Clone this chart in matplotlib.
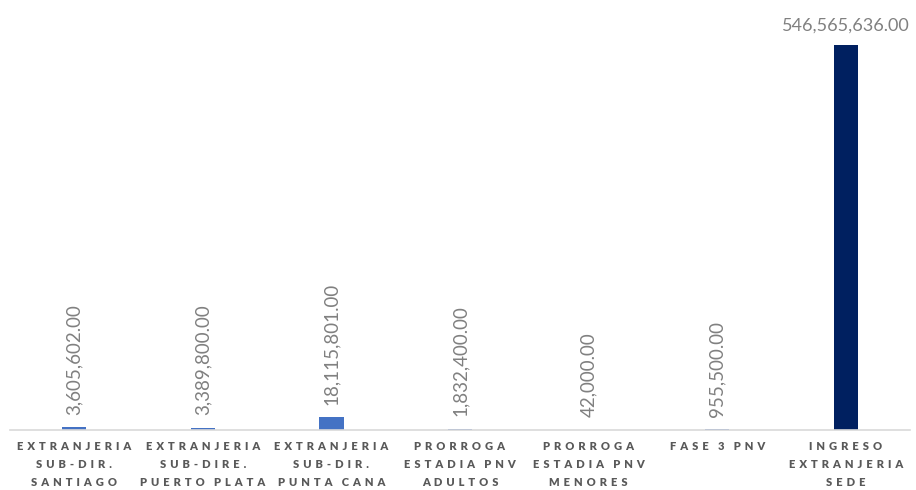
import matplotlib.pyplot as plt

categories = [
    "EXTRANJERIA\nSUB-DIR.\nSANTIAGO",
    "EXTRANJERIA\nSUB-DIRE.\nPUERTO PLATA",
    "EXTRANJERIA\nSUB-DIR.\nPUNTA CANA",
    "PRORROGA\nESTADIA PNV\nADULTOS",
    "PRORROGA\nESTADIA PNV\nMENORES",
    "FASE 3 PNV",
    "INGRESO\nEXTRANJERIA\nSEDE",
]
values = [3605602.00, 3389800.00, 18115801.00, 1832400.00, 42000.00, 955500.00, 546565636.00]
bar_colors = ["#4472C4"] * 6 + ["#002060"]


def spaced(text):
    # mimic wide letter spacing of the original labels
    gap = " \u2009"
    lines = []
    for line in text.split("\n"):
        words = [gap.join(w) for w in line.split(" ")]
        lines.append((gap + "  ").join(words))
    return "\n".join(lines)


plt.rcParams['font.family'] = ['Lato', 'DejaVu Sans']

fig = plt.figure(figsize=(9.16, 4.9), dpi=100)
ax = fig.add_axes([10 / 916, 60 / 490, 900 / 916, 385 / 490])

x = list(range(len(values)))
ax.bar(x, values, width=0.19, color=bar_colors, zorder=2)
ax.set_xlim(-0.5, len(values) - 0.5)
ax.set_ylim(0, max(values))

for i, v in enumerate(values):
    label = f"{v:,.2f}"
    if v == max(values):
        ax.annotate(label, (i, v), textcoords="offset points", xytext=(0, 8),
                    ha='center', va='bottom', fontsize=13, color="#808080",
                    annotation_clip=False)
    else:
        ax.annotate(label, (i, v), textcoords="offset points", xytext=(0, 9),
                    ha='center', va='bottom', rotation=90, fontsize=13.5,
                    color="#808080", annotation_clip=False)

ax.set_xticks(x)
ax.set_xticklabels([spaced(c) for c in categories], fontsize=8, fontweight='heavy',
                   color="#595959", linespacing=1.75)
ax.tick_params(axis='x', length=0, pad=8)
ax.set_yticks([])
for side in ["left", "right", "top"]:
    ax.spines[side].set_visible(False)
ax.spines["bottom"].set_color("#d9d9d9")
ax.spines["bottom"].set_linewidth(1.2)

fig.savefig("out.png", dpi=100)
